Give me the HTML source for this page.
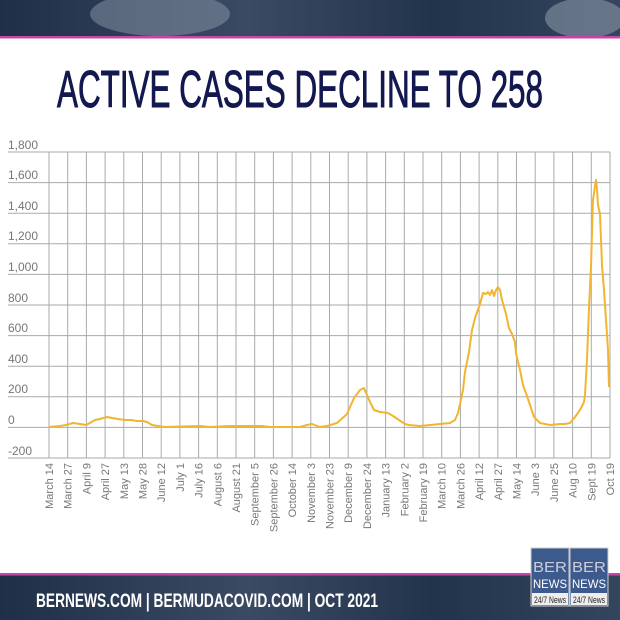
<!DOCTYPE html>
<html><head><meta charset="utf-8"><style>
html,body{margin:0;padding:0;background:#fff;}
svg{display:block;}
</style></head><body>
<svg width="620" height="620" viewBox="0 0 620 620" xmlns="http://www.w3.org/2000/svg" font-family="Liberation Sans, DejaVu Sans, sans-serif">
<defs>
<linearGradient id="bg" x1="0" y1="0" x2="1" y2="0">
<stop offset="0" stop-color="#1f2f48"/><stop offset="0.4" stop-color="#3a4a62"/><stop offset="0.7" stop-color="#22334c"/><stop offset="1" stop-color="#34455e"/>
</linearGradient>
</defs>
<rect x="0" y="0" width="620" height="36" fill="url(#bg)"/>
<ellipse cx="160" cy="14" rx="70" ry="22" fill="#8a97a8" opacity="0.5"/>
<ellipse cx="585" cy="18" rx="40" ry="20" fill="#9aa6b4" opacity="0.5"/>
<rect x="0" y="36" width="620" height="2.5" fill="#c545a8"/>
<text x="57" y="107" font-size="52" fill="#13184f" stroke="#13184f" stroke-width="1" textLength="486" lengthAdjust="spacingAndGlyphs" font-family="Liberation Sans Narrow, Liberation Sans, sans-serif">ACTIVE CASES DECLINE TO 258</text>
<g stroke="#aaa" stroke-width="1">
<line x1="8" y1="152" x2="610" y2="152"/><line x1="8" y1="182.6" x2="610" y2="182.6"/><line x1="8" y1="213.2" x2="610" y2="213.2"/><line x1="8" y1="243.8" x2="610" y2="243.8"/><line x1="8" y1="274.4" x2="610" y2="274.4"/><line x1="8" y1="305" x2="610" y2="305"/><line x1="8" y1="335.6" x2="610" y2="335.6"/><line x1="8" y1="366.2" x2="610" y2="366.2"/><line x1="8" y1="396.8" x2="610" y2="396.8"/><line x1="8" y1="427.4" x2="610" y2="427.4"/><line x1="8" y1="458" x2="610" y2="458"/>
</g>
<g id="vg" stroke="#aaa" stroke-width="1"></g>
<g font-size="12" fill="#777">
<text x="8" y="149">1,800</text><text x="8" y="179">1,600</text><text x="8" y="210">1,400</text><text x="8" y="240">1,200</text><text x="8" y="271">1,000</text><text x="8" y="302">800</text><text x="8" y="332">600</text><text x="8" y="363">400</text><text x="8" y="393">200</text><text x="8" y="424">0</text><text x="8" y="455">-200</text>
</g>
<g id="xl" font-size="11" fill="#777"></g>
<polyline fill="none" stroke="#f2b530" stroke-width="2" stroke-linejoin="round" points="49,427 60,426 66,425 73,423 80,424 86,425 90,423 95,420 100,419 107,417 112,418 118,419 125,420 131,420 137,421 143,421 147,422 152,425 158,426 165,427 200,426 210,427 230,426 262,426 270,427 300,427 307,425 312,424 320,427 327,426 337,423 347,414 354,398 360,390 364,388 367,395 370,402 374,410 380,412 388,413 393,416 399,420 405,424 409,425 420,426 430,425 440,424 450,423 455,420 458,413 460,404 463,390 465,372 469,352 472,330 475,318 480,304 483,293 486,294 488,292 490,295 492,290 494,296 496,290 498,287 500,290 502,300 506,314 509,328 512,334 515,342 516,353 518,362 520,370 523,385 527,396 530,405 534,417 540,423 550,425 560,424 565,424 570,423 575,417 580,410 584,402 585,395 587,360 589,308 591,266 593,200 595,186 596,180 597,189 598,205 600,214 602,265 604,290 606,320 608,350 609,387"/>
<rect x="0" y="573" width="620" height="2.5" fill="#c545a8"/>
<rect x="0" y="575.5" width="620" height="44.5" fill="url(#bg)"/>
<text x="36" y="607" font-size="19" font-weight="bold" fill="#fff" textLength="342" lengthAdjust="spacingAndGlyphs" font-family="Liberation Sans Narrow, Liberation Sans, sans-serif">BERNEWS.COM | BERMUDACOVID.COM | OCT 2021</text>
<g>
<rect x="531" y="548" width="38" height="58" fill="#3d5a8c" stroke="#ccc"/>
<rect x="570" y="548" width="38" height="58" fill="#3d5a8c" stroke="#ccc"/>
<text x="533" y="572" font-size="15" fill="#ccd" textLength="34" lengthAdjust="spacingAndGlyphs">BER</text>
<text x="572" y="572" font-size="15" fill="#ccd" textLength="34" lengthAdjust="spacingAndGlyphs">BER</text>
<text x="533" y="588" font-size="12" fill="#fff" textLength="34" lengthAdjust="spacingAndGlyphs">NEWS</text>
<text x="572" y="588" font-size="12" fill="#fff" textLength="34" lengthAdjust="spacingAndGlyphs">NEWS</text>
<rect x="532" y="593" width="36" height="12" fill="#eee"/><rect x="571" y="593" width="36" height="12" fill="#eee"/>
<text x="534" y="603" font-size="9" fill="#222" textLength="32" lengthAdjust="spacingAndGlyphs">24/7 News</text>
<text x="573" y="603" font-size="9" fill="#222" textLength="32" lengthAdjust="spacingAndGlyphs">24/7 News</text>
</g>
</svg>
<script>
var labels=["March 14","March 27","April 9","April 27","May 13","May 28","June 12","July 1","July 16","August 6","August 21","September 5","September 26","October 14","November 3","November 23","December 9","December 24","January 13","February 2","February 19","March 10","March 26","April 12","April 27","May 14","June 3","June 25","Aug 10","Sept 19","Oct 19"];
var ns="http://www.w3.org/2000/svg",vg=document.getElementById("vg"),xl=document.getElementById("xl");
for(var i=0;i<31;i++){var x=49+i*18.7;
var l=document.createElementNS(ns,"line");l.setAttribute("x1",x);l.setAttribute("x2",x);l.setAttribute("y1",152);l.setAttribute("y2",458);vg.appendChild(l);
var t=document.createElementNS(ns,"text");t.setAttribute("text-anchor","end");t.setAttribute("transform","translate("+(x+4)+",463) rotate(-90)");t.textContent=labels[i];xl.appendChild(t);}
</script>
</body></html>
